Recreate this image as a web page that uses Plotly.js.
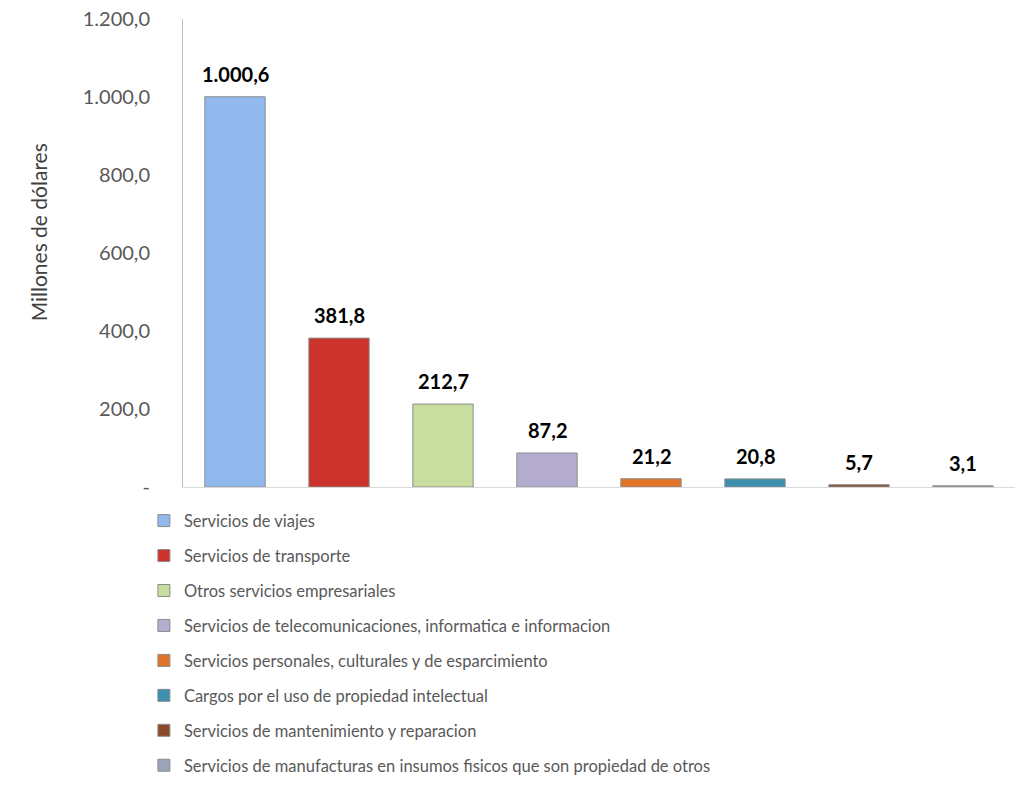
<!DOCTYPE html>
<html>
<head>
<meta charset="utf-8">
<script src="https://cdn.plot.ly/plotly-3.0.1.min.js"></script>
<style>html,body{margin:0;padding:0;background:#fff;}#chart{width:1020px;height:801px;}</style>
</head>
<body>
<div id="chart"></div>
<script>
var categories = [
  "Servicios de viajes",
  "Servicios de transporte",
  "Otros servicios empresariales",
  "Servicios de telecomunicaciones, informatica e informacion",
  "Servicios personales, culturales y de esparcimiento",
  "Cargos por el uso de propiedad intelectual",
  "Servicios de mantenimiento y reparacion",
  "Servicios de manufacturas en insumos fisicos que son propiedad de otros"
];
var values = [1000.6, 381.8, 212.7, 87.2, 21.2, 20.8, 5.7, 3.1];
var barColors = ["#92B9EE", "#CC332C", "#C8DEA0", "#B5ADD0", "#E2742A", "#3C8FAE", "#8A4A2A", "#9AA4B8"];
var tickValues = [0, 200, 400, 600, 800, 1000, 1200];
var tickLabels = ["-", "200,0", "400,0", "600,0", "800,0", "1.000,0", "1.200,0"];
var yTitle = "Millones de dólares";

var FONT = "Lato, 'Open Sans', sans-serif";

function fmt(v) {
  var parts = v.toFixed(1).split(".");
  var intPart = parts[0].replace(/\B(?=(\d{3})+(?!\d))/g, ".");
  return intPart + "," + parts[1];
}

var traces = categories.map(function (c, i) {
  return {
    type: "bar",
    name: c,
    x: [c],
    y: [values[i]],
    width: 0.58,
    legendgroup: "g" + i,
    marker: { color: barColors[i], line: { color: "#8C8C8C", width: 1 } }
  };
});

var annotations = categories.map(function (c, i) {
  return {
    x: c,
    y: values[i],
    xref: "x",
    yref: "y",
    text: fmt(values[i]),
    showarrow: false,
    yanchor: "bottom",
    yshift: 9,
    font: { family: FONT, size: 20, color: "#000000", weight: "bold" }
  };
});

annotations.push({
  text: yTitle,
  xref: "paper",
  yref: "paper",
  x: -0.19,
  y: 0.545,
  textangle: -90,
  showarrow: false,
  font: { family: FONT, size: 21, color: "#404040" }
});

var layout = {
  width: 1020,
  height: 801,
  paper_bgcolor: "#ffffff",
  plot_bgcolor: "#ffffff",
  barmode: "overlay",
  margin: { l: 183, r: 5, t: 19, b: 314 },
  showlegend: true,
  annotations: annotations,
  legend: {
    orientation: "v",
    x: -0.047,
    xanchor: "left",
    y: -0.035,
    yanchor: "top",
    traceorder: "grouped",
    tracegroupgap: 10.5,
    itemwidth: 30,
    font: { family: FONT, size: 16.5, color: "#595959" }
  },
  xaxis: {
    type: "category",
    showticklabels: false,
    showline: true,
    linecolor: "#D9D9D9",
    ticks: "",
    showgrid: false,
    zeroline: false
  },
  yaxis: {
    range: [0, 1200],
    tickvals: tickValues,
    ticktext: tickLabels,
    showgrid: false,
    zeroline: false,
    showline: true,
    linecolor: "#BFBFBF",
    ticks: "",
    ticklabelstandoff: 28,
    tickfont: { family: FONT, size: 20, color: "#595959" }
  }
};

Plotly.newPlot("chart", traces, layout, { displayModeBar: false, staticPlot: true });
</script>
</body>
</html>
